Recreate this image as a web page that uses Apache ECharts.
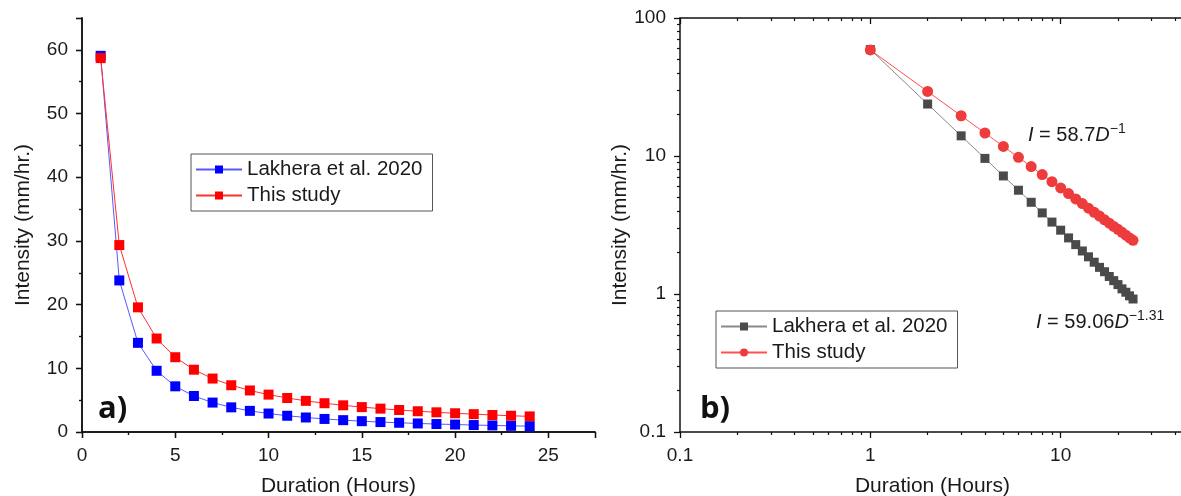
<!DOCTYPE html>
<html>
<head>
<meta charset="utf-8">
<script src="https://cdn.jsdelivr.net/npm/echarts@6/dist/echarts.min.js"></script>
<style>
  html, body { margin: 0; padding: 0; background: #fff; }
  #main { width: 1181px; height: 496px; }
</style>
</head>
<body>
<div id="main"></div>
<script>
  // durations in hours
  var durations = [1, 2, 3, 4, 5, 6, 7, 8, 9, 10, 11, 12, 13, 14, 15, 16, 17, 18, 19, 20, 21, 22, 23, 24];
  // intensity (mm/hr.)
  var lakhera = [59.06, 23.8, 14.0, 9.61, 7.17, 5.65, 4.62, 3.87, 3.32, 2.90, 2.55, 2.28,
                 2.05, 1.86, 1.70, 1.56, 1.45, 1.34, 1.25, 1.17, 1.09, 1.03, 0.97, 0.92];
  var thisStudy = [58.7, 29.35, 19.57, 14.68, 11.74, 9.78, 8.39, 7.34, 6.52, 5.87, 5.34, 4.89,
                   4.52, 4.19, 3.91, 3.67, 3.45, 3.26, 3.09, 2.94, 2.80, 2.67, 2.55, 2.45];
  var seriesNames = ['Lakhera et al. 2020', 'This study'];
  var logTicks = [0.1, 1, 10, 100];

  var font = 'Liberation Sans, Arial, sans-serif';
  var txt = '#1a1a1a';

  function pairs(ys) {
    return durations.map(function (d, i) { return [d, ys[i]]; });
  }

  function minor(n) {
    return { show: true, splitNumber: n, length: 3, lineStyle: { color: '#111', width: 1.2 } };
  }

  function mainAxis(extra) {
    var a = {
      axisLine: { show: true, lineStyle: { color: '#111', width: 1.5 } },
      axisTick: { show: true, inside: false, length: 6, lineStyle: { color: '#111', width: 1.3 } },
      splitLine: { show: false },
      axisLabel: { color: txt, fontSize: 19, fontFamily: font, margin: 14, showMaxLabel: false },
      nameTextStyle: { color: txt, fontSize: 21, fontFamily: font },
      nameLocation: 'middle'
    };
    return Object.assign(a, extra);
  }

  function mirrorAxis(extra) {
    var a = {
      axisLine: { show: true, lineStyle: { color: '#111', width: 1.5 } },
      axisTick: { show: true, inside: true, length: 6, lineStyle: { color: '#111', width: 1.3 } },
      splitLine: { show: false },
      axisLabel: { show: false }
    };
    return Object.assign(a, extra);
  }

  function legendBase(extra) {
    var l = {
      orient: 'vertical', selectedMode: false,
      borderColor: '#555', borderWidth: 1, padding: [5, 10, 5, 4], itemGap: 5,
      itemWidth: 46, itemHeight: 10,
      textStyle: { color: txt, fontSize: 20.5, fontFamily: font }
    };
    return Object.assign(l, extra);
  }

  function formula(text, left, top) {
    return {
      type: 'text', left: left, top: top,
      style: {
        text: text, fill: txt, fontSize: 20, fontFamily: font, lineHeight: 26,
        rich: {
          i: { fontStyle: 'italic', fontSize: 20, fontFamily: font, fill: txt, lineHeight: 26 },
          s: { fontSize: 14, fontFamily: font, fill: txt, verticalAlign: 'top', lineHeight: 14 }
        }
      }
    };
  }

  var chart = echarts.init(document.getElementById('main'));

  var option = {
    animation: false,
    backgroundColor: '#fff',
    grid: [
      { left: 82, top: 18, width: 513, height: 414, outerBoundsMode: 'none' },
      { left: 680, top: 18, width: 505, height: 414, outerBoundsMode: 'none' }
    ],
    xAxis: [
      mainAxis({ gridIndex: 0, type: 'value', min: 0, max: 27.5, interval: 5,
                 name: 'Duration (Hours)', nameGap: 44, minorTick: minor(2) }),
      mirrorAxis({ gridIndex: 0, type: 'value', position: 'top', min: 0, max: 27.5, interval: 5, minorTick: minor(2) }),
      mainAxis({ gridIndex: 1, type: 'log', logBase: 10, min: 0.1, max: 45,
                 name: 'Duration (Hours)', nameGap: 44, minorTick: minor(9) }),
      mirrorAxis({ gridIndex: 1, type: 'log', logBase: 10, position: 'top', min: 0.1, max: 45, minorTick: minor(9) })
    ],
    yAxis: [
      mainAxis({ gridIndex: 0, type: 'value', min: 0, max: 65, interval: 10,
                 name: 'Intensity (mm/hr.)', nameGap: 48, minorTick: minor(2) }),
      mirrorAxis({ gridIndex: 0, type: 'value', position: 'right', min: 0, max: 65, interval: 10, minorTick: minor(2) }),
      mainAxis({ gridIndex: 1, type: 'log', logBase: 10, min: 0.1, max: 100,
                 name: 'Intensity (mm/hr.)', nameGap: 48, minorTick: minor(9),
                 axisLabel: { color: txt, fontSize: 19, fontFamily: font, margin: 14,
                              formatter: function (v) { return logTicks.indexOf(+v) >= 0 ? String(v) : ''; } } })
    ],
    legend: [
      legendBase({ left: 191, top: 154, data: [seriesNames[0], seriesNames[1]] }),
      legendBase({
        left: 716, top: 311,
        formatter: function (name) { return name.replace(' (b)', ''); },
        data: [seriesNames[0] + ' (b)', seriesNames[1] + ' (b)']
      })
    ],
    series: [
      {
        name: seriesNames[0], type: 'line', xAxisIndex: 0, yAxisIndex: 0,
        data: pairs(lakhera), symbol: 'rect', symbolSize: 10,
        itemStyle: { color: '#0000ff' },
        lineStyle: { color: '#5858ff', width: 1 }
      },
      {
        name: seriesNames[1], type: 'line', xAxisIndex: 0, yAxisIndex: 0,
        data: pairs(thisStudy), symbol: 'rect', symbolSize: 10,
        itemStyle: { color: '#ff0000' },
        lineStyle: { color: '#ff3030', width: 1 }
      },
      {
        name: seriesNames[0] + ' (b)', type: 'line', xAxisIndex: 2, yAxisIndex: 2,
        data: pairs(lakhera), symbol: 'rect', symbolSize: 9,
        itemStyle: { color: '#4a4a4a' },
        lineStyle: { color: '#8a8a8a', width: 1 }
      },
      {
        name: seriesNames[1] + ' (b)', type: 'line', xAxisIndex: 2, yAxisIndex: 2,
        data: pairs(thisStudy), symbol: 'circle', symbolSize: 11,
        itemStyle: { color: '#ee3b3b' },
        lineStyle: { color: '#ff5050', width: 1 }
      }
    ],
    graphic: [
      { type: 'text', left: 98, top: 394, style: { text: 'a)', fill: '#111', font: 'bold 31px "Open Sans", sans-serif' } },
      { type: 'text', left: 700, top: 394, style: { text: 'b)', fill: '#111', font: 'bold 31px "Open Sans", sans-serif' } },
      formula('{i|I} = 58.7{i|D}{s|\u22121}', 1028, 122),
      formula('{i|I} = 59.06{i|D}{s|\u22121.31}', 1036, 309)
    ]
  };

  chart.setOption(option);
</script>
</body>
</html>
